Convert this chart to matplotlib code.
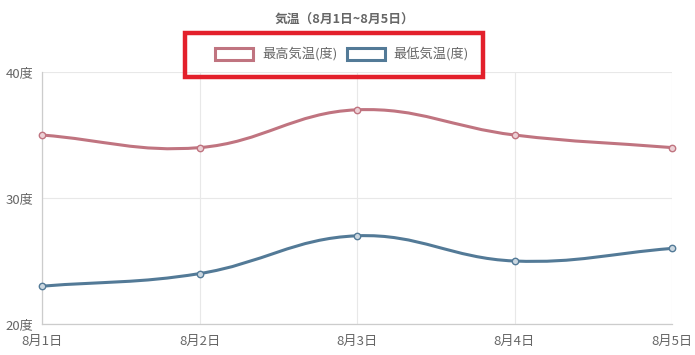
import numpy as np
import matplotlib.pyplot as plt
from matplotlib.path import Path
from matplotlib.patches import PathPatch, Rectangle

plt.rcParams['font.family'] = ['Noto Sans CJK JP', 'DejaVu Sans']

days = ["8月1日", "8月2日", "8月3日", "8月4日", "8月5日"]
high_temps = [35, 34, 37, 35, 34]
low_temps = [23, 24, 27, 25, 26]
y_ticks = [20, 30, 40]
series_names = ["最高気温(度)", "最低気温(度)"]
title = "気温（8月1日~8月5日）"

high_color = "#c07480"
low_color = "#537a97"
text_color = "#666666"

W, H = 695, 355
fig = plt.figure(figsize=(W / 100, H / 100), dpi=100)
ax = fig.add_axes([42 / W, 31 / H, 630 / W, 252 / H])
x = np.arange(len(days))
ax.set_xlim(0, len(days) - 1)
ax.set_ylim(20, 40)


def smooth_path(xs, ys, tension=0.4):
    # chart.js style spline, control points computed in pixel space
    pts = ax.transData.transform(np.column_stack([xs, ys]))
    n = len(pts)
    prev_cp = pts.copy()
    next_cp = pts.copy()
    for i in range(n):
        p = pts[max(i - 1, 0)]
        m = pts[i]
        nx = pts[min(i + 1, n - 1)]
        d01 = np.hypot(*(m - p))
        d12 = np.hypot(*(nx - m))
        tot = d01 + d12
        if tot == 0:
            continue
        fa = tension * d01 / tot
        fb = tension * d12 / tot
        prev_cp[i] = m - fa * (nx - p)
        next_cp[i] = m + fb * (nx - p)
    verts = [pts[0]]
    codes = [Path.MOVETO]
    for i in range(n - 1):
        verts += [next_cp[i], prev_cp[i + 1], pts[i + 1]]
        codes += [Path.CURVE4] * 3
    verts = ax.transData.inverted().transform(np.array(verts))
    return Path(verts, codes)


for vals, col, face in [(high_temps, high_color, "#ecd0d5"), (low_temps, low_color, "#cbd7e0")]:
    ax.add_patch(PathPatch(smooth_path(x, vals), facecolor="none", edgecolor=col,
                           lw=2.2, zorder=3, capstyle="round"))
    ax.plot(x, vals, linestyle="none", marker="o", markersize=4.6,
            markerfacecolor=face, markeredgecolor=col, markeredgewidth=1.0,
            zorder=4, clip_on=False)

ax.set_xticks(x)
ax.set_xticklabels(days)
ax.set_yticks(y_ticks)
ax.set_yticklabels([f"{v}度" for v in y_ticks])
ax.tick_params(axis="both", length=0, labelsize=9.5, labelcolor=text_color)
ax.tick_params(axis="x", pad=8)
ax.tick_params(axis="y", pad=6)
ax.grid(True, color="#e8e8e8", lw=0.8)
ax.set_axisbelow(True)
for s in ["top", "right"]:
    ax.spines[s].set_visible(False)
for s in ["left", "bottom"]:
    ax.spines[s].set_color("#cccccc")
    ax.spines[s].set_linewidth(0.9)

fig.text(345 / W, 1 - 20 / H, title, ha="center", va="center",
         fontsize=9.2, fontweight="bold", color=text_color)

# legend
for bx, tx, name, col in [(215, 262, series_names[0], high_color),
                          (347, 393, series_names[1], low_color)]:
    fig.patches.append(Rectangle((bx / W, 1 - 60 / H), 38 / W, 12 / H,
                                 transform=fig.transFigure, facecolor="white",
                                 edgecolor=col, lw=2.2))
    fig.text(tx / W, 1 - 54 / H, name, ha="left", va="center",
             fontsize=9.5, color=text_color)

# highlight box
fig.patches.append(Rectangle((185 / W, 1 - 77 / H), 298 / W, 44 / H,
                             transform=fig.transFigure, facecolor="none",
                             edgecolor="#e3202b", lw=3.2))

fig.savefig("out.png", dpi=100)
